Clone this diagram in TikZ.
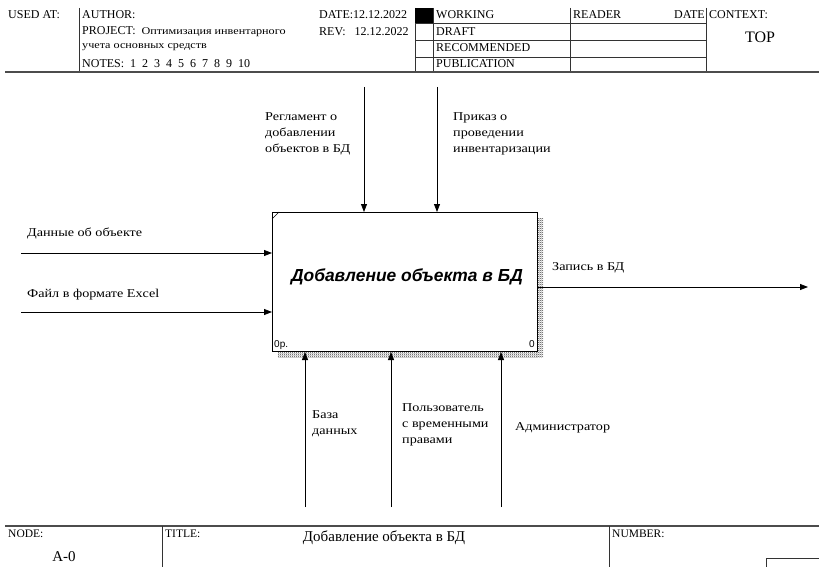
\documentclass[tikz,border=0pt]{standalone}
\usepackage{fontspec}
\setmainfont{Liberation Serif}
\newfontfamily\arialf{Liberation Sans}
\newfontfamily\widef[FakeStretch=1.18]{Liberation Serif}
\usetikzlibrary{arrows.meta,patterns.meta}
\tikzdeclarepattern{name=finechecker, type=uncolored,
  bounding box={(0,0) and (2pt,2pt)}, tile size={(2pt,2pt)},
  code={\fill (0,0) rectangle (1pt,1pt); \fill (1pt,1pt) rectangle (2pt,2pt);}}
\begin{document}
\begin{tikzpicture}[x=1pt,y=-1pt,
  frame/.style={line width=0.8pt, draw=black!80},
  heavy/.style={line width=1.3pt, draw=black!70},
  hdr/.style={inner sep=0pt, anchor=west, font=\fontsize{12}{13}\selectfont},
  lbl/.style={inner sep=0pt, anchor=north west, align=left, font=\widef\fontsize{12}{16}\selectfont},
  slbl/.style={inner sep=0pt, anchor=west, font=\widef\fontsize{12}{16}\selectfont},
  arr/.style={line width=0.8pt, -{Triangle[length=8pt,width=6pt]}},
  shadow/.style={pattern={finechecker}, pattern color=black!80},
]
\fill[white] (0,0) rectangle (819,567);
\useasboundingbox (0,0) rectangle (819,567);

% ---------- header ----------
\draw[frame] (79,8) -- (79,72);
\draw[frame] (415,8) -- (415,72);
\draw[frame] (433,8) -- (433,72);
\draw[frame] (570,8) -- (570,72);
\draw[frame] (706,8) -- (706,72);
\fill[black] (415,8) rectangle (433,23);
\foreach \yy in {23,40,57} \draw[frame] (415,\yy) -- (706,\yy);
\draw[heavy] (5,72) -- (819,72);

\node[hdr] (usedat) at (8,15) {USED AT:};
\node[hdr] (author) at (82,15) {AUTHOR:};
\node[hdr] (project) at (82,32) {PROJECT:\ \ {\widef\fontsize{10.3}{12}\selectfont Оптимизация инвентарного}};
\node[hdr] (project2) at (82,47) {\widef\fontsize{10.3}{12}\selectfont учета основных средств};
\node[hdr] (notes) at (82,64) {NOTES:\ \ 1\hspace{6pt}2\hspace{6pt}3\hspace{6pt}4\hspace{6pt}5\hspace{6pt}6\hspace{6pt}7\hspace{6pt}8\hspace{6pt}9\hspace{6pt}10};
\node[hdr] (date) at (319,15) {DATE:12.12.2022};
\node[hdr] (rev) at (319,32) {REV:\ \ \ 12.12.2022};
\node[hdr] (working) at (436,15) {WORKING};
\node[hdr] (draft) at (436,32) {DRAFT};
\node[hdr] (recommended) at (436,48) {RECOMMENDED};
\node[hdr] (publication) at (436,64) {PUBLICATION};
\node[hdr] (reader) at (573,15) {READER};
\node[hdr, anchor=east] (rdate) at (705,15) {DATE};
\node[hdr] (context) at (709,15) {CONTEXT:};
\node[inner sep=0pt, font=\fontsize{16}{18}\selectfont] (top) at (760,37) {TOP};

% ---------- activity box ----------
\fill[shadow] (537,218) rectangle (543,357);
\fill[shadow] (278,351) rectangle (537,357);
\node[draw, fill=white, line width=1pt, minimum width=265pt, minimum height=139pt,
      inner sep=0pt, anchor=north west] (A) at (272,212) {};
\draw[line width=0.5pt] (272,219) -- (279,212);
\node[font=\arialf\bfseries\itshape\fontsize{17.4}{20}\selectfont, inner sep=0pt] (Atitle) at (407,277) {Добавление объекта в БД};
\node[font=\arialf\fontsize{10}{12}\selectfont, inner sep=0pt, anchor=base west] (Acost) at (274,347) {0р.};
\node[font=\arialf\fontsize{10}{12}\selectfont, inner sep=0pt, anchor=base east] (Anum) at (535,347) {0};

% ---------- controls ----------
\coordinate (c1) at (364,87);
\coordinate (c2) at (437,87);
\draw[arr] (c1) -- (c1 |- A.north);
\draw[arr] (c2) -- (c2 |- A.north);
\node[lbl] (c1l) at (265,112) {Регламент о\\добавлении\\объектов в БД};
\node[lbl] (c2l) at (453,112) {Приказ о\\проведении\\инвентаризации};

% ---------- inputs ----------
\coordinate (i1) at (21,253);
\coordinate (i2) at (21,312);
\draw[arr] (i1) -- (i1 -| A.west);
\draw[arr] (i2) -- (i2 -| A.west);
\node[slbl] (i1l) at (27,233) {Данные об объекте};
\node[slbl] (i2l) at (27,295) {Файл в формате Excel};

% ---------- output ----------
\coordinate (o1) at (808,287);
\draw[arr] (A.east |- o1) -- (o1);
\node[slbl] (o1l) at (552,268) {Запись в БД};

% ---------- mechanisms ----------
\coordinate (m1) at (305,507);
\coordinate (m2) at (391,507);
\coordinate (m3) at (501,507);
\draw[arr] (m1) -- (m1 |- A.south);
\draw[arr] (m2) -- (m2 |- A.south);
\draw[arr] (m3) -- (m3 |- A.south);
\node[lbl] (m1l) at (312,410) {База\\данных};
\node[lbl] (m2l) at (402,403) {Пользователь\\с временными\\правами};
\node[slbl] (m3l) at (515,428) {Администратор};

% ---------- footer ----------
\draw[heavy] (5,526) -- (819,526);
\draw[frame] (162,526) -- (162,567);
\draw[frame] (609,526) -- (609,567);
\draw[frame] (766,567) -- (766,558) -- (819,558);
\node[hdr, font=\fontsize{11.5}{12}\selectfont] (nodel) at (8,534) {NODE:};
\node[hdr, font=\fontsize{11.5}{12}\selectfont] (titlel) at (165,534) {TITLE:};
\node[hdr, font=\fontsize{11.5}{12}\selectfont] (numberl) at (612,534) {NUMBER:};
\node[inner sep=0pt, font=\fontsize{15}{17}\selectfont] (nodeid) at (64,557) {A-0};
\node[inner sep=0pt, font=\fontsize{15}{17}\selectfont] (ftitle) at (384,538) {Добавление объекта в БД};
\end{tikzpicture}
\end{document}
